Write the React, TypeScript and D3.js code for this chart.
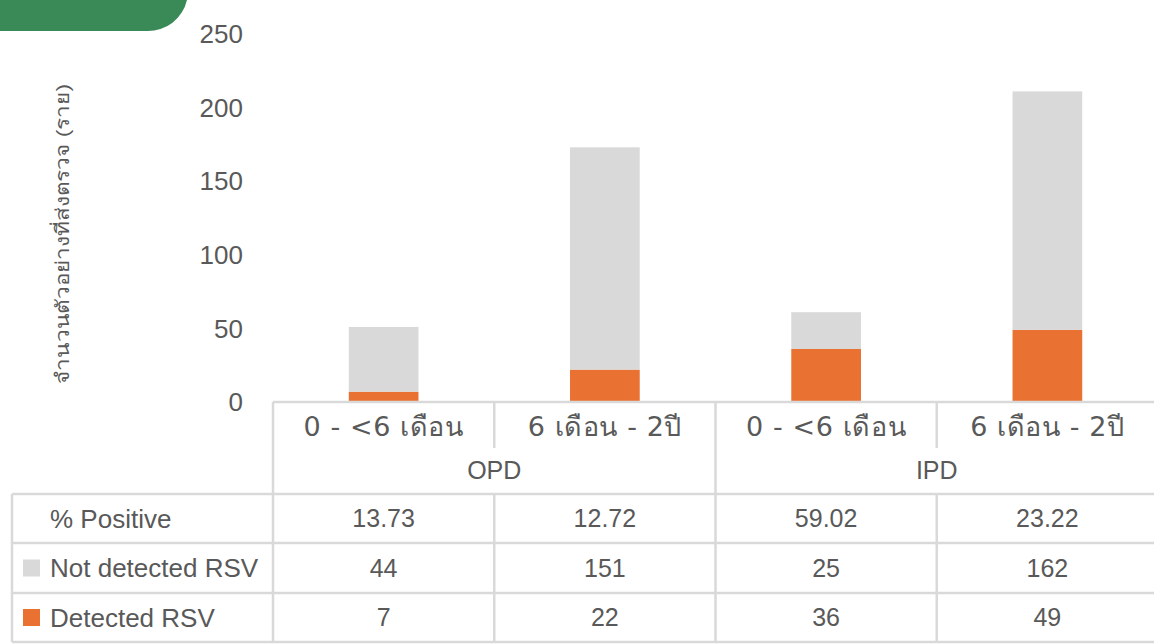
import React from 'react';
import * as d3 from 'd3';

const groups = ['OPD', 'IPD'];
const ageBands = ['0 - <6 เดือน', '6 เดือน - 2ปี', '0 - <6 เดือน', '6 เดือน - 2ปี'];
const notDetected = [44, 151, 25, 162];
const detected = [7, 22, 36, 49];
const pctPositive = ['13.73', '12.72', '59.02', '23.22'];
const yTicks = [0, 50, 100, 150, 200, 250];

const colorGrey = '#D9D9D9';
const colorOrange = '#E97132';
const textColor = '#595959';
const lineColor = '#D9D9D9';
const font = '"Liberation Sans", Arial, "Noto Sans", sans-serif';
const catFont = '"DejaVu Sans", "Noto Sans", sans-serif';

export default function App() {
  const width = 1154;
  const height = 644;

  const x = d3.scaleBand<number>().domain(d3.range(ageBands.length)).range([273, 1158]).padding(0);
  const y = d3.scaleLinear().domain([0, 250]).range([402, 34]);
  const barW = x.bandwidth() * 0.315;

  const stacked = d3.stack<number>()
    .keys(['detected', 'notDetected'])
    .value((i, k) => (k === 'detected' ? detected[i] : notDetected[i]))(d3.range(ageBands.length));

  const rowY = [494, 543, 593, 642];
  const rows = [
    { label: '% Positive', values: pctPositive, key: null },
    { label: 'Not detected RSV', values: notDetected.map(String), key: colorGrey },
    { label: 'Detected RSV', values: detected.map(String), key: colorOrange },
  ];
  const tableLeft = 12;
  const tableRight = 1158;

  return (
    <svg width={width} height={height} style={{ position: 'absolute', left: 0, top: 0 }}>
      <rect width={width} height={height} fill='#FFFFFF' />

      {/* green corner shape */}
      <path d='M0,0 H187 A40,40 0 0 1 147,31 H0 Z' fill='#3A8A58' />

      {/* y axis label */}
      <text
        transform='translate(69,234) rotate(-90)'
        textAnchor='middle'
        fontSize={19}
        textLength={300}
        lengthAdjust='spacingAndGlyphs'
        fill={textColor}
        fontFamily={font}
      >
        จำนวนตัวอย่างที่ส่งตรวจ (ราย)
      </text>

      {/* y tick labels */}
      {yTicks.map(t => (
        <text key={t} x={243} y={y(t)} dy='0.35em' textAnchor='end' fontSize={26} fill={textColor} fontFamily={font}>
          {t}
        </text>
      ))}

      {/* bars */}
      {stacked.map((layer, li) => (
        <g key={layer.key}>
          {layer.map((d, i) => (
            <rect
              key={i}
              x={(x(i) as number) + x.bandwidth() / 2 - barW / 2}
              y={y(d[1])}
              width={barW}
              height={y(d[0]) - y(d[1])}
              fill={li === 0 ? colorOrange : colorGrey}
            />
          ))}
        </g>
      ))}

      {/* axis line and category header lines */}
      <g stroke={lineColor} strokeWidth={2.5}>
        <line x1={273} x2={tableRight} y1={402} y2={402} />
        {d3.range(ageBands.length + 1).map(i => {
          const xx = i < ageBands.length ? (x(i) as number) : tableRight;
          const full = i % 2 === 0;
          return <line key={i} x1={xx} x2={xx} y1={402} y2={full ? rowY[0] : 448} />;
        })}
      </g>

      {/* category labels */}
      {ageBands.map((c, i) => (
        <text key={i} x={(x(i) as number) + x.bandwidth() / 2} y={427} dy='0.35em' textAnchor='middle' fontSize={27} letterSpacing={0.6} fill={textColor} fontFamily={catFont}>
          {c}
        </text>
      ))}
      {groups.map((g, gi) => (
        <text key={g} x={x(gi * 2 + 1) as number} y={470} dy='0.35em' textAnchor='middle' fontSize={25} fill={textColor} fontFamily={font}>
          {g}
        </text>
      ))}

      {/* data table */}
      <g stroke={lineColor} strokeWidth={2.5}>
        {rowY.map(ry => (
          <line key={ry} x1={tableLeft} x2={tableRight} y1={ry} y2={ry} />
        ))}
        <line x1={tableLeft} x2={tableLeft} y1={rowY[0]} y2={rowY[3]} />
        {d3.range(ageBands.length + 1).map(i => {
          const xx = i < ageBands.length ? (x(i) as number) : tableRight;
          return <line key={i} x1={xx} x2={xx} y1={rowY[0]} y2={rowY[3]} />;
        })}
      </g>
      {rows.map((r, ri) => {
        const cy = (rowY[ri] + rowY[ri + 1]) / 2;
        return (
          <g key={r.label}>
            {r.key && <rect x={23} y={cy - 8.5} width={17} height={17} fill={r.key} />}
            <text x={50} y={cy} dy='0.35em' fontSize={26} fill={textColor} fontFamily={font}>
              {r.label}
            </text>
            {r.values.map((v, i) => (
              <text key={i} x={(x(i) as number) + x.bandwidth() / 2} y={cy} dy='0.35em' textAnchor='middle' fontSize={25} fill={textColor} fontFamily={font}>
                {v}
              </text>
            ))}
          </g>
        );
      })}
    </svg>
  );
}
